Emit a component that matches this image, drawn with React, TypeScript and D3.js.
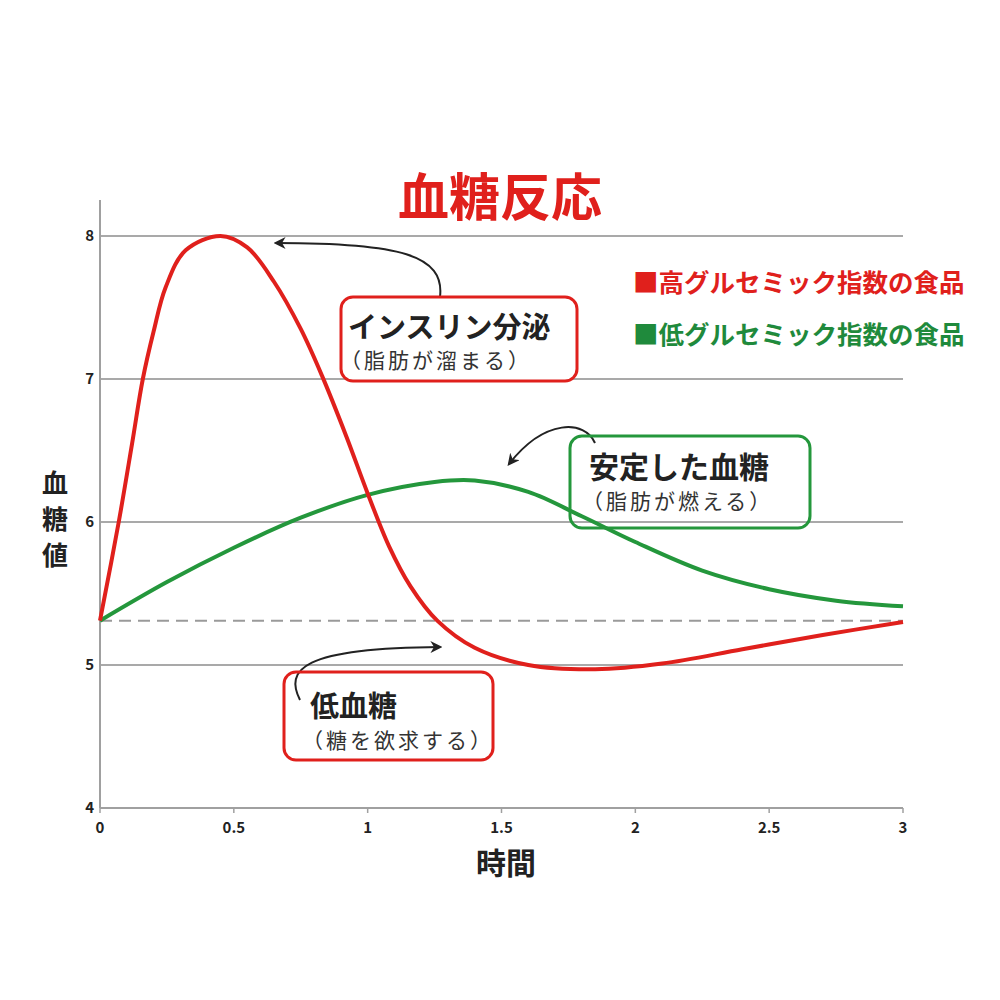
import React from "react";
import * as d3 from "d3";

const yTicks = [4, 5, 6, 7, 8];
const gridValues = [5, 6, 7, 8];
const xTicks = [0, 0.5, 1, 1.5, 2, 2.5, 3];
const xTickLabels = ["0", "0.5", "1", "1.5", "2", "2.5", "3"];
const baselineValue = 5.31;

const highGI: [number, number][] = [
  [0, 5.31], [0.07, 6.0], [0.12, 6.55], [0.16, 7.0], [0.2, 7.33], [0.245, 7.64],
  [0.32, 7.9], [0.45, 8.0], [0.55, 7.92], [0.65, 7.68], [0.75, 7.35], [0.83, 7.02],
  [0.92, 6.6], [1.0, 6.2], [1.08, 5.83], [1.16, 5.55], [1.26, 5.31], [1.4, 5.12],
  [1.6, 5.0], [1.85, 4.97], [2.1, 5.01], [2.4, 5.11], [2.7, 5.21], [3.0, 5.3],
];
const lowGI: [number, number][] = [
  [0, 5.31], [0.25, 5.58], [0.5, 5.82], [0.75, 6.03], [1.0, 6.19], [1.25, 6.28],
  [1.4, 6.29], [1.6, 6.21], [1.8, 6.04], [2.0, 5.86], [2.25, 5.66], [2.5, 5.53],
  [2.75, 5.45], [3.0, 5.41],
];

const title = "血糖反応";
const yLabel = ["血", "糖", "値"];
const xLabel = "時間";
const legendItems = [
  { label: "■高グルセミック指数の食品", color: "#e0201c" },
  { label: "■低グルセミック指数の食品", color: "#1f8a3c" },
];

const RED = "#e0201c";
const GREEN = "#24973c";
const FONT = "'Noto Sans CJK JP', 'Noto Sans', sans-serif";

export default function App() {
  const x = d3.scaleLinear().domain([0, 3]).range([100, 903]);
  const y = d3.scaleLinear().domain([4, 8]).range([808, 236]);
  const line = d3
    .line<[number, number]>()
    .x((d) => x(d[0]))
    .y((d) => y(d[1]))
    .curve(d3.curveCatmullRom.alpha(0.5));

  return (
    <svg width={1000} height={1000} style={{ display: "block", position: "absolute", left: 0, top: 0, background: "#fff" }} fontFamily={FONT}>
      <defs>
        <marker id="ah" viewBox="0 0 10 10" refX="8" refY="5" markerWidth="6" markerHeight="6" orient="auto-start-reverse">
          <path d="M0,0 L10,5 L0,10 L3,5 Z" fill="#222" />
        </marker>
      </defs>
      <text x={500} y={216} textAnchor="middle" fontSize={51} fontWeight={700} fill={RED}>{title}</text>

      {gridValues.map((v) => (
        <line key={v} x1={x(0)} x2={x(3)} y1={y(v)} y2={y(v)} stroke="#a9a9a9" strokeWidth={2} />
      ))}
      <line x1={x(0)} x2={x(3)} y1={y(baselineValue)} y2={y(baselineValue)} stroke="#9a9a9a" strokeWidth={2} strokeDasharray="12 7" />
      <line x1={x(0)} x2={x(0)} y1={200} y2={y(4)} stroke="#a0a0a0" strokeWidth={2} />
      <line x1={x(0)} x2={x(3)} y1={y(4)} y2={y(4)} stroke="#a0a0a0" strokeWidth={2} />
      {xTicks.map((t) => (
        <line key={t} x1={x(t)} x2={x(t)} y1={y(4)} y2={y(4) + 5} stroke="#a0a0a0" strokeWidth={1.5} />
      ))}
      {yTicks.map((v) => (
        <text key={v} x={x(0) - 6} y={y(v) + 5} textAnchor="end" fontSize={15} fontWeight={700} fill="#222">{v}</text>
      ))}
      {xTicks.map((t, i) => (
        <text key={t} x={x(t)} y={y(4) + 25} textAnchor="middle" fontSize={15} fontWeight={700} fill="#222">{xTickLabels[i]}</text>
      ))}
      {yLabel.map((c, i) => (
        <text key={c} x={55} y={493 + i * 36} textAnchor="middle" fontSize={26} fontWeight={700} fill="#222">{c}</text>
      ))}
      <text x={506} y={874} textAnchor="middle" fontSize={30} fontWeight={700} fill="#222">{xLabel}</text>

      <path d={line(lowGI) ?? ""} fill="none" stroke={GREEN} strokeWidth={4} />
      <path d={line(highGI) ?? ""} fill="none" stroke={RED} strokeWidth={4} />

      {legendItems.map((l, i) => (
        <text key={l.label} x={633} y={292 + i * 52} fontSize={25.5} fontWeight={700} fill={l.color}>{l.label}</text>
      ))}

      {/* annotation: insulin */}
      <path d="M440,297 C445,255 400,243 276,243" fill="none" stroke="#222" strokeWidth={2} markerEnd="url(#ah)" />
      <rect x={341} y={297} width={236} height={84} rx={12} fill="#fff" stroke={RED} strokeWidth={3} />
      <text x={348} y={338} fontSize={29} fontWeight={700} fill="#222">インスリン分泌</text>
      <text x={340} y={368} fontSize={21} letterSpacing={3} fill="#333">（脂肪が溜まる）</text>

      {/* annotation: stable */}
      <path d="M595,443 C585,420 545,418 509,464" fill="none" stroke="#222" strokeWidth={2} markerEnd="url(#ah)" />
      <rect x={570} y={436} width={240} height={92} rx={12} fill="none" stroke={GREEN} strokeWidth={3} />
      <text x={589} y={478} fontSize={30} fontWeight={700} fill="#222">安定した血糖</text>
      <text x={582} y={509} fontSize={21} letterSpacing={3} fill="#333">（脂肪が燃える）</text>

      {/* annotation: hypoglycemia */}
      <path d="M300,700 C285,670 300,648 440,647" fill="none" stroke="#222" strokeWidth={2} markerEnd="url(#ah)" />
      <rect x={284} y={672} width={209} height={88} rx={12} fill="none" stroke={RED} strokeWidth={3} />
      <text x={310} y={717} fontSize={29} fontWeight={700} fill="#222">低血糖</text>
      <text x={302} y={748} fontSize={21} letterSpacing={3} fill="#333">（糖を欲求する）</text>
    </svg>
  );
}
